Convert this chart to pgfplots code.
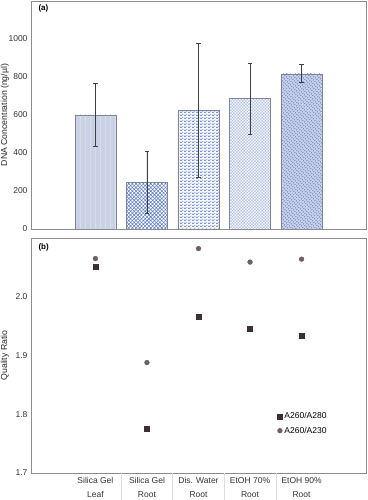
\documentclass[border=0pt]{standalone}
\usepackage{fontspec}
\setmainfont{Liberation Sans}
\usepackage{pgfplots}
\pgfplotsset{compat=1.18}
\usetikzlibrary{patterns,patterns.meta}

\definecolor{barfill}{HTML}{C9D1E4}
\definecolor{patblue}{HTML}{5B7BD0}
\definecolor{edgec}{HTML}{7F8699}
\definecolor{errc}{HTML}{3F3F3F}
\definecolor{sqc}{HTML}{3B2F36}
\definecolor{cic}{HTML}{6E5F60}
\definecolor{framec}{HTML}{8C8C8C}
\definecolor{sepc}{HTML}{DDDDDD}

\pgfdeclarepatternformonly{hdash}{\pgfpointorigin}{\pgfqpoint{4pt}{3pt}}{\pgfqpoint{4pt}{3pt}}{%
  \pgfsetlinewidth{0.9pt}%
  \pgfpathmoveto{\pgfqpoint{0pt}{0.75pt}}\pgfpathlineto{\pgfqpoint{2.6pt}{0.75pt}}%
  \pgfpathmoveto{\pgfqpoint{2pt}{2.25pt}}\pgfpathlineto{\pgfqpoint{4pt}{2.25pt}}%
  \pgfpathmoveto{\pgfqpoint{0pt}{2.25pt}}\pgfpathlineto{\pgfqpoint{0.6pt}{2.25pt}}%
  \pgfusepath{stroke}}

\pgfplotsset{
  common/.style={
    scale only axis,
    width=335pt,
    xmin=-1.25, xmax=5.25,
    axis line style={framec, line width=0.8pt},
    tick style={draw=none},
    ticklabel style={font=\fontsize{8.5}{10}\selectfont, text=black!80},
    /pgf/number format/assume math mode=true,
    /pgf/number format/1000 sep={},
    label style={font=\fontsize{8.7}{10}\selectfont, text=black!85},
  }
}

\begin{document}
\begin{tikzpicture}
\path[use as bounding box] (0,0) rectangle (367pt,500pt);

% ---------- (a) ----------
\begin{axis}[common,
  at={(31pt,271pt)}, anchor=south west,
  height=228pt,
  ymin=0, ymax=1200,
  ytick={0,200,400,600,800,1000},
  xtick=\empty,
  ylabel={DNA Concentration (ng/µl)},
  ylabel style={at={(axis description cs:-0.078,0.5)}, anchor=center},
  ybar, bar width=0.8, bar shift=0pt,
  error bars/y dir=both, error bars/y explicit,
  error bars/error bar style={errc, line width=0.8pt},
  error bars/error mark options={rotate=90, errc, mark size=2.3pt, line width=0.8pt},
]
\addplot[draw=edgec, line width=0.5pt, fill=barfill,
  postaction={pattern={Lines[angle=90,distance=5pt,line width=0.3pt]}, pattern color=white!25!barfill}]
  coordinates {(0,600) +- (0,166)};
\addplot[draw=edgec, line width=0.5pt, fill=white,
  postaction={pattern={Hatch[angle=45,distance=2.6pt,line width=0.55pt]}, pattern color=patblue}]
  coordinates {(1,247) +- (0,163)};
\addplot[draw=edgec, line width=0.5pt, fill=white,
  postaction={pattern=hdash, pattern color=patblue!80}]
  coordinates {(2,625) +- (0,354)};
\addplot[draw=edgec, line width=0.5pt, fill=white,
  postaction={pattern={Hatch[angle=45,distance=2.12pt,line width=0.35pt]}, pattern color=patblue!55}]
  coordinates {(3,686) +- (0,188)};
\addplot[draw=edgec, line width=0.5pt, fill=barfill,
  postaction={pattern={Lines[angle=45,distance=2.1213pt,line width=0.8pt]}, pattern color=patblue}]
  coordinates {(4,817) +- (0,47)};
\node[anchor=north west, font=\bfseries\fontsize{8}{9}\selectfont, inner sep=0pt] at (axis description cs:0.022,0.985) {(a)};
\end{axis}

% ---------- (b) ----------
\begin{axis}[common,
  at={(31pt,27pt)}, anchor=south west,
  height=235pt,
  ymin=1.7, ymax=2.1,
  ytick={1.7,1.8,1.9,2.0},
  yticklabel style={/pgf/number format/fixed, /pgf/number format/fixed zerofill, /pgf/number format/precision=1},
  xtick pos=bottom,
  xtick={0,1,2,3,4},
  xticklabels={{Silica Gel\\Leaf},{Silica Gel\\Root},{Dis. Water\\Root},{EtOH 70\%\\Root},{EtOH 90\%\\Root}},
  xticklabel style={align=center, font=\fontsize{8.5}{14}\selectfont, yshift=-1pt},
  extra x ticks={0.5,1.5,2.5,3.5},
  extra x tick labels={},
  extra x tick style={xtick pos=bottom, tick align=outside, major tick length=27pt, tick style={draw=sepc, line width=0.6pt}},
  ylabel={Quality Ratio},
  ylabel style={at={(axis description cs:-0.078,0.5)}, anchor=center},
  legend style={at={(axis description cs:0.735,0.266)}, anchor=north west, draw=none, fill=none,
    font=\fontsize{8.5}{10}\selectfont, row sep=2.5pt, inner sep=0pt},
  legend cell align=left,
  legend image code/.code={\draw[#1] plot coordinates {(0.15cm,0cm)};},
]
\addplot[only marks, mark=square*, mark size=2.5pt, color=sqc]
  coordinates {(0,2.051) (1,1.776) (2,1.966) (3,1.946) (4,1.934)};
\addlegendentry{A260/A280}
\addplot[only marks, mark=*, mark size=2.4pt, color=cic]
  coordinates {(0,2.065) (1,1.888) (2,2.082) (3,2.059) (4,2.064)};
\addlegendentry{A260/A230}
\node[anchor=north west, font=\bfseries\fontsize{8}{9}\selectfont, inner sep=0pt] at (axis description cs:0.022,0.975) {(b)};
\end{axis}
\end{tikzpicture}
\end{document}
